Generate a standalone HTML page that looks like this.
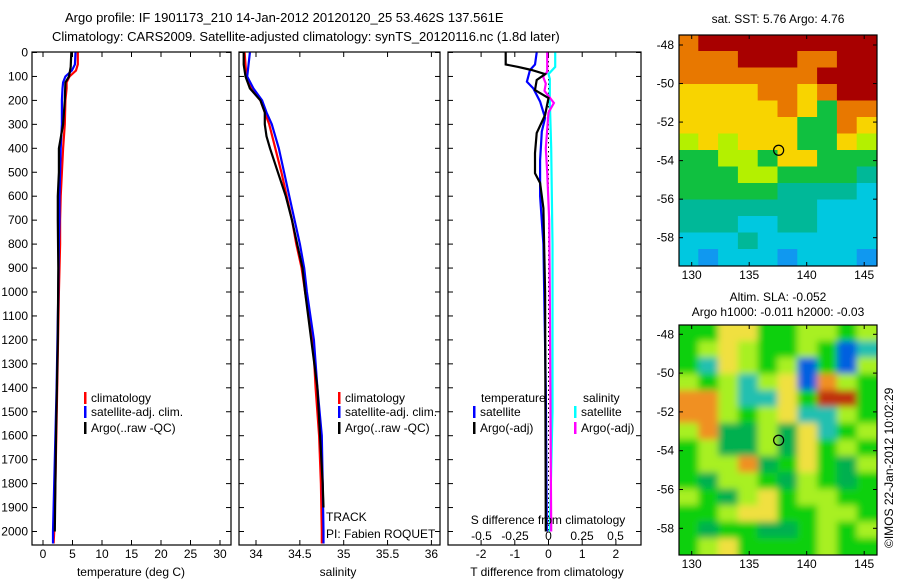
<!DOCTYPE html>
<html><head><meta charset="utf-8">
<style>
html,body{margin:0;padding:0;background:#fff;}
svg{display:block;font-family:"Liberation Sans",Arial,sans-serif;}
text{font-size:12px;fill:#000;}
</style></head>
<body>
<svg id="chart" width="900" height="580" viewBox="0 0 900 580" xmlns="http://www.w3.org/2000/svg">
<text x="65" y="22" style="font-size:13px">Argo profile: IF 1901173_210 14-Jan-2012 20120120_25 53.462S 137.561E</text>
<text x="52" y="41" style="font-size:13px">Climatology: CARS2009. Satellite-adjusted climatology: synTS_20120116.nc (1.8d later)</text>
<g id="g"></g>
</svg>
<script>
// ---- data ----
const depthsT = [0,50,75,100,125,150,200,300,400,500,600,700,800,1000,1400,1800,2000,2050];
const tempClim = [5.9,5.9,5.6,4.5,4.0,4.0,3.8,3.7,3.4,3.2,3.0,2.9,2.9,2.7,2.4,2.1,1.9,1.8];
const tempSat  = [5.5,5.4,4.9,3.8,3.4,3.3,3.2,3.2,3.0,2.9,2.8,2.8,2.7,2.6,2.3,1.9,1.7,1.7];
const depthsArgoT = [0,60,100,125,200,300,400,500,600,700,900,1200,1600,2000];
const tempArgo = [4.8,4.7,4.4,3.8,3.7,3.4,2.7,2.7,2.5,2.5,2.6,2.5,2.2,2.0];
const depthsS = [0,100,150,200,250,300,400,500,600,700,800,900,1000,1200,1400,1600,1800,2000,2050];
const salClim = [33.87,33.89,33.95,34.05,34.10,34.15,34.22,34.29,34.35,34.41,34.46,34.52,34.56,34.65,34.68,34.72,34.74,34.75,34.75];
const salSat  = [33.93,33.90,33.97,34.07,34.12,34.18,34.26,34.32,34.38,34.44,34.50,34.55,34.58,34.66,34.70,34.75,34.76,34.77,34.77];
const depthsArgoS = [0,50,100,150,200,250,300,350,400,500,600,700,800,900,1000,1400,1800,1900];
const salArgo = [33.86,33.86,33.88,33.93,34.05,34.10,34.10,34.12,34.16,34.25,34.34,34.41,34.47,34.53,34.56,34.70,34.76,34.77];
const depthsDA = [0,50,60,73,90,115,157,190,261,336,420,504,545,650,1000,2000];
const dTArgo = [-1.27,-1.27,-0.9,-0.5,-0.1,-0.35,-0.4,0,-0.1,-0.35,-0.4,-0.4,-0.25,-0.15,-0.1,-0.08];
const depthsDS = [0,50,73,122,150,205,273,330,450,600,800,1400,2000];
const dTSat = [-0.35,-0.4,-0.55,-0.64,-0.45,-0.25,-0.1,-0.2,-0.25,-0.25,-0.15,-0.08,-0.05];
const depthsDSA = [0,80,101,130,160,211,250,400,500,700,1000,2000];
const dSArgo = [-0.01,-0.01,-0.04,-0.02,-0.03,0.04,0.0,-0.02,-0.01,0.005,0.01,0.02];
const depthsDSS = [0,60,90,110,200,400,800,1500,2000];
const dSSat = [0.05,0.05,0.0,0.01,0.01,0.02,0.03,0.03,0.01];
const depthTicks = [0,100,200,300,400,500,600,700,800,900,1000,1100,1200,1300,1400,1500,1600,1700,1800,1900,2000];
const tempTicks = [0,5,10,15,20,25,30];
const salTicks = [34,34.5,35,35.5,36];
const tdTicks = [-2,-1,0,1,2];
const sdTicks = [-0.5,-0.25,0,0.25,0.5];
const sdTickLabels = ['-0.5','-0.25','0','0.25','0.5'];
const lonTicks = [130,135,140,145];
const latTicks = [-48,-50,-52,-54,-56,-58];
const sstGrid = ["ORRRRRRRRR","OOORRROORR","OOOOOOORRR","YYYYOOYORR","YYYYYOYGOO","YYYYYYGGOY","LYLYYYGGYL","GGLLGYYGGG","GGGLLGGGGT","GGGGGTTTTC","TTTTTTTCCC","TTTCCTTCCC","CCCTCCCCCC","CBCCCBCCCB"];
const slaGrid = ["GGYYGGLLGL","GLYLGGLGBT","GTYLGLBGBL","LGLTLYBOLG","OOLTTYGRRG","OOLGLYTTLG","LODDLDYTGL","GLDDLDYGLG","GLLODGYGDL","GDLLGDLGDG","LGDLYGLLGG","GGLYYGGLLG","GDGGDDGLGL","GLYGGGGLGG"];
const argoLon = 137.561, argoLat = -53.462;

// ---- helpers ----
const NS='http://www.w3.org/2000/svg';
const root=document.getElementById('g');
function mk(tag,attrs,parent){const e=document.createElementNS(NS,tag);for(const k in attrs)e.setAttribute(k,attrs[k]);(parent||root).appendChild(e);return e;}
function txt(x,y,s,anchor,parent,size){const t=mk('text',{x:x,y:y,'text-anchor':anchor||'start'},parent);if(size)t.style.fontSize=size+'px';t.textContent=s;return t;}
const yD=d=>52.5+0.2395*d;
const PT={l:32,r:231}, PS={l:239,r:440}, PD={l:448,r:641}, TOP=52, BOT=545;
const xT=v=>43+5.9*v, xS=v=>256+87.7*(v-34), xTD=v=>548.5+33.7*v, xSD=v=>548.5+134*v;

function frame(p,name){
  const g=mk('g',{});
  
  
  mk('rect',{x:p.l,y:TOP,width:p.r-p.l,height:BOT-TOP,fill:'none',stroke:'#000','stroke-width':1.2},g);
  depthTicks.forEach(d=>{mk('line',{x1:p.l,x2:p.l+5,y1:yD(d),y2:yD(d),stroke:'#000'},g);mk('line',{x1:p.r-5,x2:p.r,y1:yD(d),y2:yD(d),stroke:'#000'},g);});
  return g;
}
function xticks(g,vals,fx,labels,ly){
  vals.forEach((v,i)=>{const x=fx(v);mk('line',{x1:x,x2:x,y1:TOP,y2:TOP+5,stroke:'#000'},g);mk('line',{x1:x,x2:x,y1:BOT-5,y2:BOT,stroke:'#000'},g);
    if(labels){const t=txt(x,ly,labels[i],'middle',g);}});
}
function line(g,xs,ds,fx,color,name,w){
  const pts=xs.map((v,i)=>fx(v).toFixed(1)+','+yD(ds[i]).toFixed(1)).join(' ');
  const p=mk('polyline',{points:pts,fill:'none',stroke:color,'stroke-width':w||2.2,'stroke-linejoin':'miter'},g);
  
  
}
function legend(g,x,y,color,label){
  mk('rect',{x:x,y:y-10,width:2.5,height:12,fill:color},g);
  const t=txt(x+7,y,label,'start',g);
  
  
}

// ---- panel 1 temperature ----
const g1=frame(PT,'temperature-panel');
depthTicks.forEach(d=>{const t=txt(28,yD(d)+4,String(d),'end',g1);});
xticks(g1,tempTicks,xT,tempTicks.map(String),558);
line(g1,tempClim,depthsT,xT,'#ff0000','temp-climatology-line');
line(g1,tempSat,depthsT,xT,'#0000ff','temp-satellite-line');
line(g1,tempArgo,depthsArgoT,xT,'#000000','temp-argo-line');
legend(g1,84,402,'#ff0000','climatology');
legend(g1,84,416,'#0000ff','satellite-adj. clim.');
legend(g1,84,432,'#000000','Argo(..raw -QC)');
txt(131,576,'temperature (deg C)','middle',g1);

// ---- panel 2 salinity ----
const g2=frame(PS,'salinity-panel');
xticks(g2,salTicks,xS,salTicks.map(String),558);
line(g2,salClim,depthsS,xS,'#ff0000','sal-climatology-line');
line(g2,salSat,depthsS,xS,'#0000ff','sal-satellite-line');
line(g2,salArgo,depthsArgoS,xS,'#000000','sal-argo-line');
legend(g2,338,402,'#ff0000','climatology');
legend(g2,338,416,'#0000ff','satellite-adj. clim.');
legend(g2,338,432,'#000000','Argo(..raw -QC)');
txt(326,521,'TRACK','start',g2);
txt(326,538,'PI: Fabien ROQUET','start',g2);
txt(338,576,'salinity','middle',g2);

// ---- panel 3 differences ----
const g3=frame(PD,'difference-panel');
xticks(g3,tdTicks,xTD,tdTicks.map(String),558);
mk('line',{x1:xTD(0),x2:xTD(0),y1:TOP,y2:yD(2000),stroke:'#000','stroke-dasharray':'1.5,3'},g3);
line(g3,dSSat,depthsDSS,xSD,'#00ffff','sal-diff-satellite-line');
line(g3,dSArgo,depthsDSA,xSD,'#ff00ff','sal-diff-argo-line');
line(g3,dTSat,depthsDS,xTD,'#0000ff','temp-diff-satellite-line');
line(g3,dTArgo,depthsDA,xTD,'#000000','temp-diff-argo-line');
txt(481,402,'temperature','start',g3);
txt(583,402,'salinity','start',g3);
legend(g3,473,416,'#0000ff','satellite');
legend(g3,473,432,'#000000','Argo(-adj)');
legend(g3,574,416,'#00ffff','satellite');
legend(g3,574,432,'#ff00ff','Argo(-adj)');
txt(548,524,'S difference from climatology','middle',g3);
sdTicks.forEach((v,i)=>{const t=txt(xSD(v),540,sdTickLabels[i],'middle',g3);});
txt(547,576,'T difference from climatology','middle',g3);

// ---- maps ----
const sstCol={R:'#a80000',O:'#e87800',Y:'#f8d400',L:'#b4f000',G:'#10c040',T:'#00b898',C:'#00c8e0',B:'#1098f0'};
const slaCol={G:'#10d010',D:'#00b050',L:'#a8f020',Y:'#f0e040',O:'#f09020',R:'#c03010',T:'#20c0b0',B:'#0060e0'};
function map(name,top,bot,grid,cols,blur,lat0y,lat1y){
  const L=679,R=877;
  const g=mk('g',{});
  
  
  const cid=name+'-clip';
  const cp=mk('clipPath',{id:cid},g);mk('rect',{x:L,y:top,width:R-L,height:bot-top},cp);
  const cg=mk('g',{'clip-path':'url(#'+cid+')'},g);
  const inner=mk('g',blur?{filter:'url(#blur)'}:{},cg);
  if(blur) mk('rect',{x:L-20,y:top-20,width:R-L+40,height:bot-top+40,fill:cols.G},inner);
  const nr=grid.length,nc=grid[0].length,cw=(R-L)/nc,ch=(bot-top)/nr;
  grid.forEach((row,r)=>{[...row].forEach((c,k)=>{
    let x=L+k*cw-0.5,y=top+r*ch-0.5,w=cw+1,h=ch+1;
    if(blur){if(k===0){x-=12;w+=12;} if(k===nc-1){w+=12;} if(r===0){y-=12;h+=12;} if(r===nr-1){h+=12;}}
    mk('rect',{x:x,y:y,width:w,height:h,fill:cols[c]},inner);
  });});
  mk('rect',{x:L,y:top,width:R-L,height:bot-top,fill:'none',stroke:'#000','stroke-width':1.2},g);
  const lonX=v=>691.7+11.5*(v-130);
  const latY=v=>lat0y+(lat1y-lat0y)*(v+48)/(-10);
  lonTicks.forEach(v=>{const x=lonX(v);mk('line',{x1:x,x2:x,y1:top,y2:top+4,stroke:'#000'},g);mk('line',{x1:x,x2:x,y1:bot-4,y2:bot,stroke:'#000'},g);
    const t=txt(x,bot+13,String(v),'middle',g);});
  latTicks.forEach(v=>{const y=latY(v);mk('line',{x1:L,x2:L+4,y1:y,y2:y,stroke:'#000'},g);mk('line',{x1:R-4,x2:R,y1:y,y2:y,stroke:'#000'},g);
    const t=txt(674,y+4,String(v),'end',g);});
  const c=mk('circle',{cx:lonX(argoLon),cy:latY(argoLat),r:5,fill:'none',stroke:'#000','stroke-width':1.2},g);
  
  
}
const defs=mk('defs',{});
const f=mk('filter',{id:'blur',x:'-10%',y:'-10%',width:'120%',height:'120%'},defs);
mk('feGaussianBlur',{stdDeviation:3.5},f);
map('sst-map',35,266,sstGrid,sstCol,false,45,237.7);
map('sla-map',325,555,slaGrid,slaCol,true,334.3,528.3);
txt(778,23,'sat. SST: 5.76 Argo: 4.76','middle');
txt(778,301,'Altim. SLA: -0.052','middle');
txt(778,316,'Argo h1000: -0.011 h2000: -0.03','middle');
const cr=txt(0,0,'©IMOS 22-Jan-2012 10:02:29','start');
cr.setAttribute('transform','translate(893,548) rotate(-90)');


</script>
</body></html>
